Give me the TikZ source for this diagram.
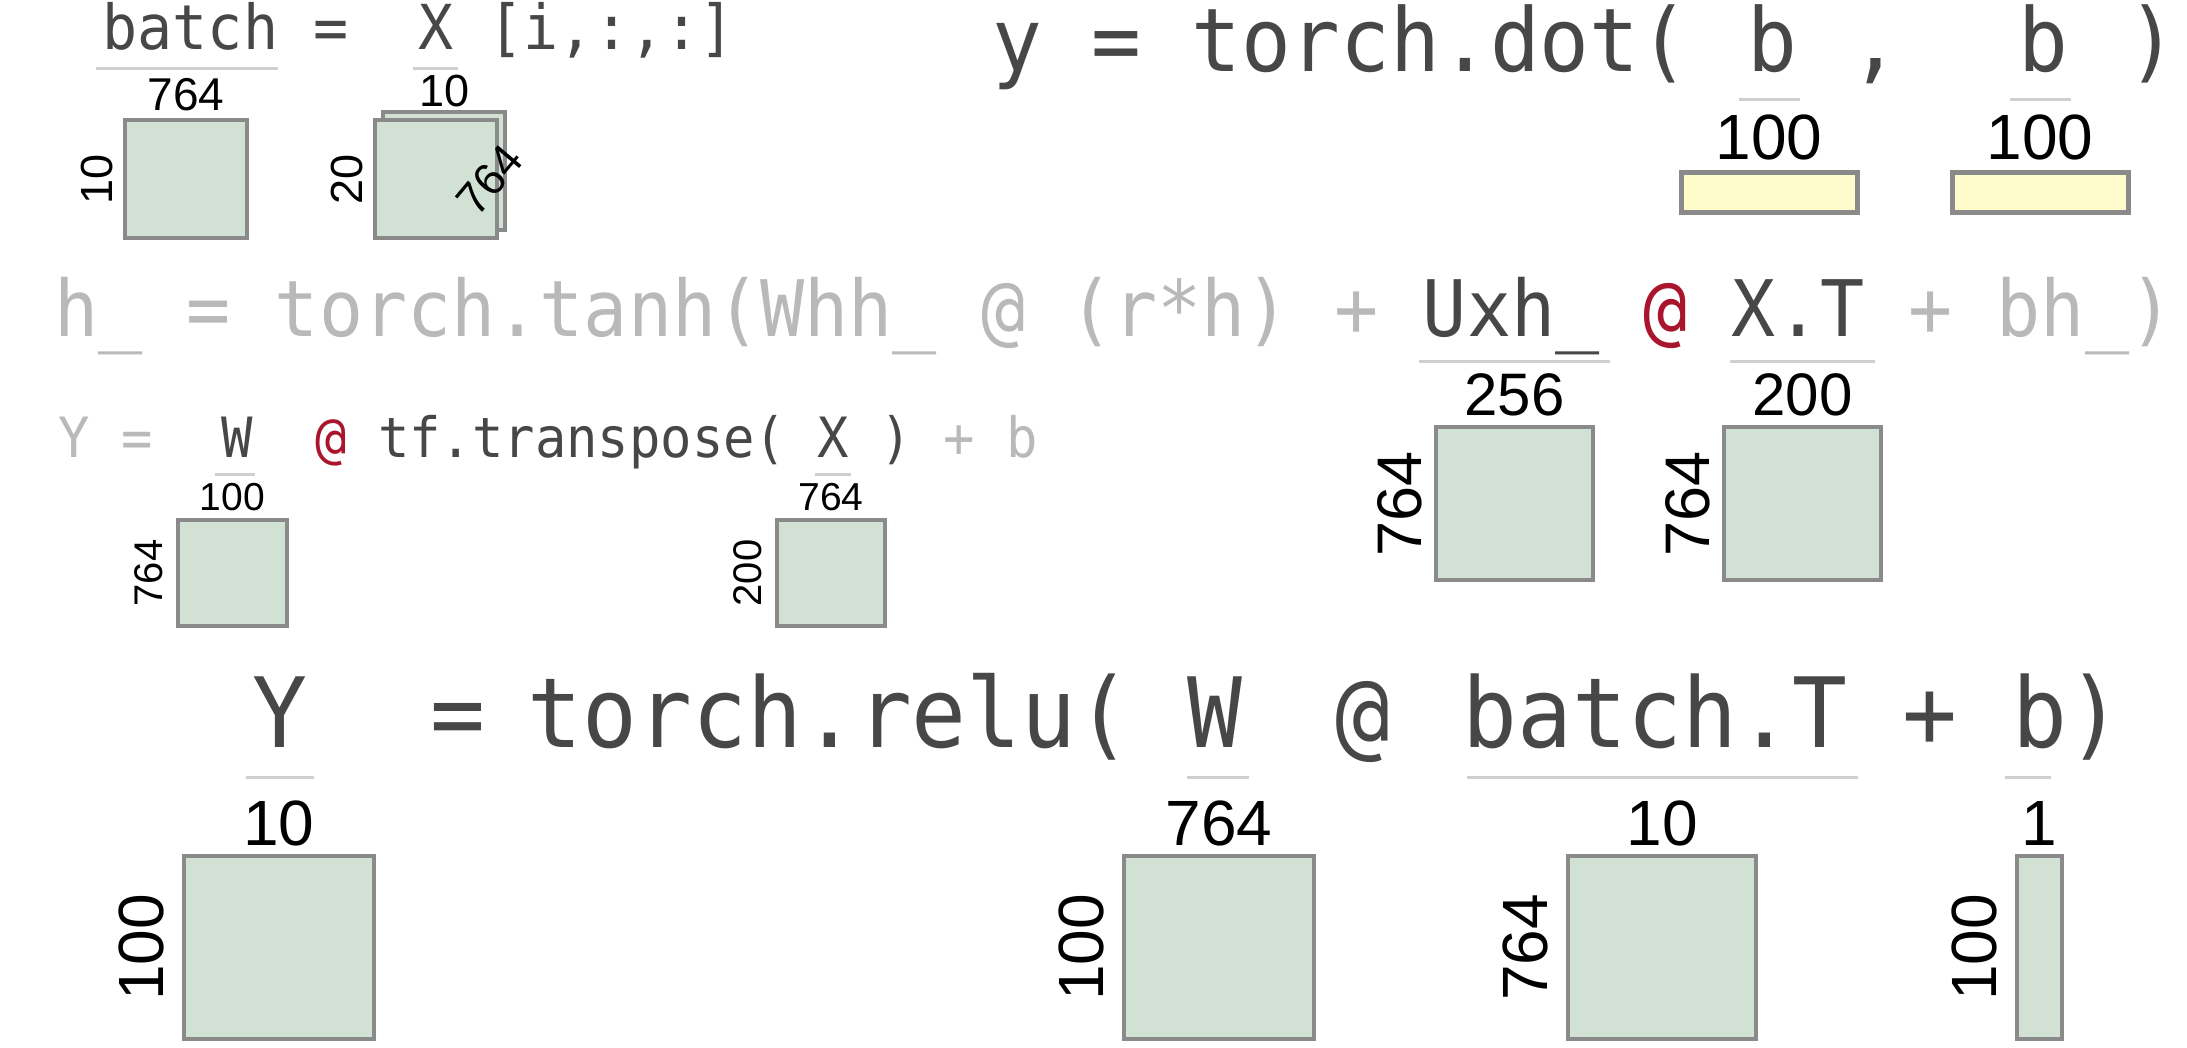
\documentclass[tikz,border=0pt]{standalone}
\usepackage{fontspec}
\usetikzlibrary{positioning,calc}
\newfontfamily\codefont[FakeStretch=0.94]{DejaVu Sans Mono}
\newfontfamily\dimfont{Liberation Sans}
\definecolor{codedark}{HTML}{474747}
\definecolor{codelight}{HTML}{B9B9B9}
\definecolor{atred}{HTML}{A8152D}
\definecolor{matfill}{HTML}{D1E2D5}
\definecolor{vecfill}{HTML}{FFFCCB}
\definecolor{matline}{HTML}{8A8A8A}
\definecolor{ulinegray}{HTML}{CFCFCF}

\tikzset{
  code/.style={inner sep=0pt, anchor=base west, text=codedark},
  rowa/.style={code, font=\codefont\fontsize{62pt}{62pt}\selectfont},
  rowb/.style={code, font=\codefont\fontsize{88pt}{88pt}\selectfont},
  rowc/.style={code, font=\codefont\fontsize{78pt}{78pt}\selectfont},
  rowd/.style={code, font=\codefont\fontsize{55.5pt}{55.5pt}\selectfont},
  rowe/.style={code, font=\codefont\fontsize{97pt}{97pt}\selectfont},
  mat/.style={draw=matline, fill=matfill, line width=4pt, inner sep=0pt},
  vec/.style={draw=matline, fill=vecfill, line width=5pt, inner sep=0pt},
  under/.style={draw=ulinegray, line width=3pt},
  dim/.style={inner sep=0pt, text=black},
}

\begin{document}
\begin{tikzpicture}[x=1pt,y=-1pt]
\useasboundingbox (0,0) rectangle (2187,1048);

% batch = X [i,:,:]
\node[rowa] (batch) at (102.5,50) {batch};
\node[rowa] at (313,50) {=};
\node[rowa] (xin) at (418.4,50) {X};
\node[rowa] at (488.6,50) {[i,:,:]};
\draw[under] ([xshift=-7pt,yshift=-19pt]batch.base west) -- ([yshift=-19pt]batch.base east);
\draw[under] ([xshift=-5pt,yshift=-19pt]xin.base west) -- ([xshift=4pt,yshift=-19pt]xin.base east);

\node[mat, minimum width=122pt, minimum height=118pt] (batchbox) at (186,179) {};
\node[dim, font=\dimfont\fontsize{46pt}{46pt}\selectfont, above=7pt of batchbox] {764};
\node[dim, font=\dimfont\fontsize{45pt}{45pt}\selectfont, rotate=90, anchor=south] at ([xshift=-10pt]batchbox.west) {10};

\node[mat, minimum width=122pt, minimum height=118pt] (xback) at (444,171) {};
\node[mat, minimum width=122pt, minimum height=118pt] (xbox) at (436,179.5) {};
\node[dim, font=\dimfont\fontsize{45pt}{45pt}\selectfont] at (445,91) {10};
\node[dim, font=\dimfont\fontsize{45pt}{45pt}\selectfont, rotate=90, anchor=south] at ([xshift=-10pt]xbox.west) {20};
\node[dim, font=\dimfont\fontsize{45pt}{45pt}\selectfont, rotate=50] at (490,180) {764};

% y = torch.dot( b , b )
\node[rowb] at (992,72) {y = torch.dot(};
\node[rowb, anchor=base] (bone) at (1772,72) {b};
\node[rowb, anchor=base] at (1875,72) {,};
\node[rowb, anchor=base] (btwo) at (2043,72) {b};
\node[rowb, anchor=base] at (2152,72) {)};
\draw[under] ([xshift=-8pt,yshift=-28pt]bone.base west) -- ([xshift=3pt,yshift=-28pt]bone.base east);
\draw[under] ([xshift=-8pt,yshift=-28pt]btwo.base west) -- ([xshift=3pt,yshift=-28pt]btwo.base east);

\node[vec, minimum width=176pt, minimum height=40pt] (vone) at (1769,193) {};
\node[vec, minimum width=176pt, minimum height=40pt] (vtwo) at (2040,193) {};
\node[dim, font=\dimfont\fontsize{64pt}{64pt}\selectfont, above=10pt of vone] {100};
\node[dim, font=\dimfont\fontsize{64pt}{64pt}\selectfont, above=10pt of vtwo] {100};

% h_ = torch.tanh(...)
\node[rowc, text=codelight] at (54,337) {h\_ = torch.tanh(Whh\_ @ (r*h) +};
\node[rowc] (uxh) at (1422.7,337) {Uxh\_};
\node[rowc, text=atred] at (1643.4,337) {@};
\node[rowc] (xt) at (1731.7,337) {X.T};
\node[rowc, text=codelight] at (1908.3,337) {+ bh\_)};
\draw[under] ([xshift=-4pt,yshift=-25pt]uxh.base west) -- ([xshift=10pt,yshift=-25pt]uxh.base east);
\draw[under] ([xshift=-2pt,yshift=-25pt]xt.base west) -- ([xshift=10pt,yshift=-25pt]xt.base east);

\node[mat, minimum width=157pt, minimum height=153pt] (uxhbox) at (1514.5,503.5) {};
\node[mat, minimum width=157pt, minimum height=153pt] (xtbox) at (1802.5,503.5) {};
\node[dim, font=\dimfont\fontsize{60pt}{60pt}\selectfont, above=9pt of uxhbox] {256};
\node[dim, font=\dimfont\fontsize{60pt}{60pt}\selectfont, above=9pt of xtbox] {200};
\node[dim, font=\dimfont\fontsize{63pt}{63pt}\selectfont, rotate=90, anchor=south] at ([xshift=-12pt]uxhbox.west) {764};
\node[dim, font=\dimfont\fontsize{63pt}{63pt}\selectfont, rotate=90, anchor=south] at ([xshift=-12pt]xtbox.west) {764};

% Y = W @ tf.transpose( X ) + b
\node[rowd, text=codelight] at (58,457) {Y =};
\node[rowd] (wt) at (220.8,457) {W};
\node[rowd, text=atred] at (315,457) {@};
\node[rowd] at (377.8,457) {tf.transpose(};
\node[rowd] (xtf) at (817.4,457) {X};
\node[rowd] at (880.2,457) {)};
\node[rowd, text=codelight] at (943,457) {+ b};
\draw[under] ([xshift=-6pt,yshift=-17pt]wt.base west) -- ([xshift=2pt,yshift=-17pt]wt.base east);
\draw[under] ([xshift=-2pt,yshift=-17pt]xtf.base west) -- ([xshift=2pt,yshift=-17pt]xtf.base east);

\node[mat, minimum width=109pt, minimum height=106pt] (wtbox) at (232.5,573) {};
\node[mat, minimum width=108pt, minimum height=106pt] (xtfbox) at (831,573) {};
\node[dim, font=\dimfont\fontsize{39pt}{39pt}\selectfont, above=7pt of wtbox] {100};
\node[dim, font=\dimfont\fontsize{39pt}{39pt}\selectfont, above=7pt of xtfbox] {764};
\node[dim, font=\dimfont\fontsize{40pt}{40pt}\selectfont, rotate=90, anchor=south] at ([xshift=-13pt]wtbox.west) {764};
\node[dim, font=\dimfont\fontsize{40pt}{40pt}\selectfont, rotate=90, anchor=south] at ([xshift=-13pt]xtfbox.west) {200};

% Y = torch.relu( W @ batch.T + b)
\node[rowe] (yout) at (252.5,747) {Y};
\node[rowe] at (430,747) {=};
\node[rowe] at (527.5,747) {torch.relu(};
\node[rowe] (wr) at (1187.5,747) {W};
\node[rowe] at (1335,747) {@};
\node[rowe] (bt) at (1462.5,747) {batch.T};
\node[rowe] at (1902.5,747) {+};
\node[rowe] (br) at (2012.5,747) {b};
\node[rowe] at (2067.5,747) {)};
\draw[under] ([xshift=-7pt,yshift=-30pt]yout.base west) -- ([xshift=6pt,yshift=-30pt]yout.base east);
\draw[under] ([xshift=-1pt,yshift=-30pt]wr.base west) -- ([xshift=6pt,yshift=-30pt]wr.base east);
\draw[under] ([xshift=4pt,yshift=-30pt]bt.base west) -- ([xshift=11pt,yshift=-30pt]bt.base east);
\draw[under] ([xshift=-8pt,yshift=-30pt]br.base west) -- ([xshift=-17pt,yshift=-30pt]br.base east);

\node[mat, minimum width=190pt, minimum height=183pt] (youtbox) at (279,947.5) {};
\node[mat, minimum width=190pt, minimum height=183pt] (wrbox) at (1219,947.5) {};
\node[mat, minimum width=188pt, minimum height=183pt] (btbox) at (1662,947.5) {};
\node[mat, minimum width=45pt, minimum height=183pt] (brbox) at (2039.5,947.5) {};
\node[dim, font=\dimfont\fontsize{64pt}{64pt}\selectfont, above=8pt of youtbox] {10};
\node[dim, font=\dimfont\fontsize{64pt}{64pt}\selectfont, above=8pt of wrbox] {764};
\node[dim, font=\dimfont\fontsize{64pt}{64pt}\selectfont, above=8pt of btbox] {10};
\node[dim, font=\dimfont\fontsize{64pt}{64pt}\selectfont, above=8pt of brbox] {1};
\node[dim, font=\dimfont\fontsize{64pt}{64pt}\selectfont, rotate=90, anchor=south] at ([xshift=-18pt]youtbox.west) {100};
\node[dim, font=\dimfont\fontsize{64pt}{64pt}\selectfont, rotate=90, anchor=south] at ([xshift=-18pt]wrbox.west) {100};
\node[dim, font=\dimfont\fontsize{64pt}{64pt}\selectfont, rotate=90, anchor=south] at ([xshift=-18pt]btbox.west) {764};
\node[dim, font=\dimfont\fontsize{64pt}{64pt}\selectfont, rotate=90, anchor=south] at ([xshift=-18pt]brbox.west) {100};
\end{tikzpicture}
\end{document}
